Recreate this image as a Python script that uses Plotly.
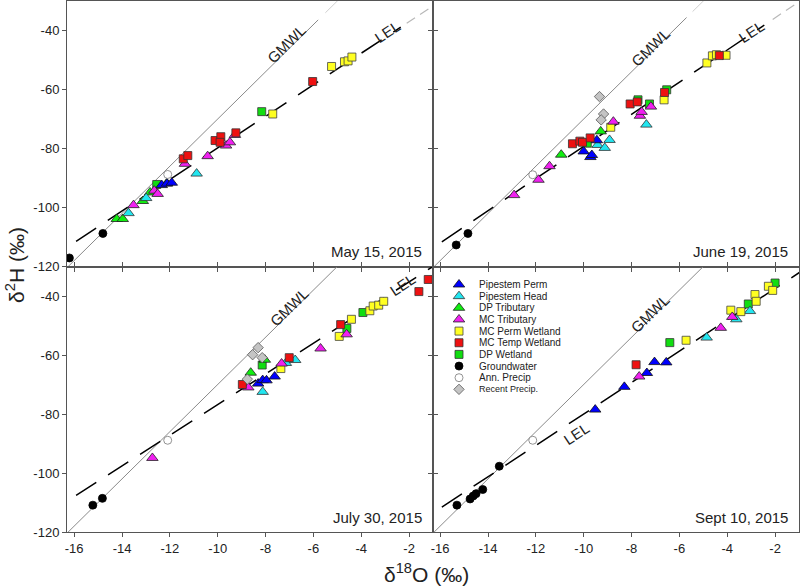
import plotly.graph_objects as go
from plotly.subplots import make_subplots

# ---------------- data ----------------
PANEL_DATES = ["May 15, 2015", "June 19, 2015", "July 30, 2015", "Sept 10, 2015"]
SERIES = ["Pipestem Perm", "Pipestem Head", "DP Tributary", "MC Tributary",
          "MC Perm Wetland", "MC Temp Wetland", "DP Wetland", "Groundwater",
          "Ann. Precip", "Recent Precip."]

X_TICKS = [-16, -14, -12, -10, -8, -6, -4, -2]
X_TICK_TEXT = ["-16", "-14", "-12", "-10", "-8", "-6", "-4", "-2"]
Y_TICKS = [-120, -100, -80, -60, -40]
Y_TICK_TEXT = ["-120", "-100", "-80", "-60", "-40"]

# GMWL: d2H = 8 * d18O + 10
GMWL_SLOPE, GMWL_INTERCEPT = 8.0, 10.0
# LEL per panel (slope, intercept)
LEL_SLOPE = [5.35, 5.45, 5.20, 5.32]
LEL_INTERCEPT = [-26.3, -24.8, -24.8, -26.8]

# --- May 15, 2015 ---
may_pp_x = [-12.34, -12.12, -11.92]
may_pp_y = [-92.4, -91.9, -91.6]
may_ph_x = [-13.73, -12.99, -10.88]
may_ph_y = [-101.9, -96.8, -88.5]
may_dpt_x = [-14.22, -13.97, -13.13, -12.83, -12.13]
may_dpt_y = [-103.9, -103.9, -97.8, -94.9, -91.8]
may_mct_x = [-13.52, -12.65, -12.51, -11.37, -10.42, -9.65, -9.49, -9.28]
may_mct_y = [-99.2, -94.3, -95.4, -85.2, -82.6, -79.0, -77.9, -75.4]
may_mcpw_x = [-7.70, -5.24, -4.70, -4.55, -4.39]
may_mcpw_y = [-68.3, -52.2, -50.6, -50.3, -49.0]
may_mctw_x = [-11.44, -11.25, -10.11, -9.87, -9.90, -9.24, -6.03]
may_mctw_y = [-83.5, -82.4, -77.3, -76.0, -77.9, -74.7, -57.3]
may_dpw_x = [-12.55, -8.16]
may_dpw_y = [-92.2, -67.5]
may_gw_x = [-16.20, -14.80]
may_gw_y = [-117.1, -108.8]
may_ann_x = [-12.09]
may_ann_y = [-88.8]
may_rec_x = []
may_rec_y = []

# --- June 19, 2015 ---
jun_pp_x = [-10.00, -9.72, -9.66, -9.45]
jun_pp_y = [-81.0, -82.9, -82.2, -77.2]
jun_ph_x = [-9.42, -9.12, -8.92, -7.38]
jun_ph_y = [-78.8, -79.8, -77.1, -71.9]
jun_dpt_x = [-10.94, -9.29]
jun_dpt_y = [-82.1, -74.2]
jun_mct_x = [-12.91, -11.89, -11.43, -8.76, -7.65, -7.58, -7.19]
jun_mct_y = [-95.8, -90.6, -86.0, -70.9, -68.9, -67.6, -65.8]
jun_mcpw_x = [-8.87, -6.64, -4.85, -4.62, -4.45, -4.05]
jun_mcpw_y = [-72.8, -63.5, -51.0, -48.6, -48.2, -48.4]
jun_mctw_x = [-10.47, -10.16, -10.05, -9.73, -8.06, -7.76, -6.62, -4.33]
jun_mctw_y = [-78.4, -77.5, -77.9, -76.4, -64.9, -64.2, -61.0, -48.5]
jun_dpw_x = [-9.85, -7.73, -7.25, -6.53]
jun_dpw_y = [-78.2, -63.5, -64.9, -60.1]
jun_gw_x = [-15.33, -14.84]
jun_gw_y = [-112.7, -108.8]
jun_ann_x = [-12.13]
jun_ann_y = [-88.9]
jun_rec_x = [-9.34, -9.17, -9.27]
jun_rec_y = [-62.4, -68.3, -70.3]

# --- July 30, 2015 ---
jul_pp_x = [-8.31, -8.12, -7.96, -7.62]
jul_pp_y = [-69.7, -68.5, -68.6, -67.3]
jul_ph_x = [-8.12, -7.15, -6.76]
jul_ph_y = [-72.5, -62.7, -61.7]
jul_dpt_x = [-8.62, -8.03]
jul_dpt_y = [-66.0, -61.6]
jul_mct_x = [-12.73, -8.72, -7.33, -5.70, -4.61]
jul_mct_y = [-94.9, -71.0, -62.9, -57.8, -53.0]
jul_mcpw_x = [-7.36, -4.92, -4.41, -3.64, -3.50, -3.27, -3.06]
jul_mcpw_y = [-64.6, -53.7, -47.9, -45.0, -43.4, -43.1, -41.8]
jul_mctw_x = [-8.97, -7.01, -4.86, -1.59, -1.20]
jul_mctw_y = [-70.0, -60.9, -49.7, -38.5, -34.4]
jul_dpw_x = [-8.14, -4.60, -3.93]
jul_dpw_y = [-63.4, -51.0, -45.6]
jul_gw_x = [-15.22, -14.82]
jul_gw_y = [-110.9, -108.6]
jul_ann_x = [-12.09]
jul_ann_y = [-88.9]
jul_rec_x = [-8.54, -8.31, -8.14, -8.76]
jul_rec_y = [-59.9, -57.5, -60.9, -68.2]

# --- Sept 10, 2015 ---
sep_pp_x = [-9.52, -8.30, -7.36, -7.04, -6.55]
sep_pp_y = [-78.5, -70.8, -66.1, -62.4, -62.5]
sep_ph_x = [-4.86, -3.62, -3.05]
sep_ph_y = [-54.1, -47.9, -45.1]
sep_dpt_x = []
sep_dpt_y = []
sep_mct_x = [-7.68, -4.27, -3.79]
sep_mct_y = [-67.3, -50.8, -47.1]
sep_mcpw_x = [-5.72, -3.85, -3.43, -2.84, -2.79, -2.28, -2.10]
sep_mcpw_y = [-55.0, -44.8, -45.3, -39.5, -41.8, -36.7, -38.1]
sep_mctw_x = [-7.81]
sep_mctw_y = [-63.3]
sep_dpw_x = [-6.40, -3.12, -2.00]
sep_dpw_y = [-55.8, -42.7, -35.6]
sep_gw_x = [-15.30, -14.75, -14.62, -14.50, -14.22, -13.53]
sep_gw_y = [-110.9, -108.8, -107.8, -107.0, -105.6, -97.7]
sep_ann_x = [-12.13]
sep_ann_y = [-88.9]
sep_rec_x = []
sep_rec_y = []

# line extents (d18O) per panel
GMWL_X_DARK = [[-16.3, -5.8], [-16.3, -5.7], [-16.3, -5.0], [-16.3, -5.0]]
GMWL_X_LIGHT = [[-5.5, -4.9], [-5.45, -4.9], None, None]
LEL_X_DARK = [[-15.92, -2.35], [-15.93, -2.45], [-15.92, -0.9], [-15.93, -0.9]]
LEL_X_LIGHT = [[-2.1, -0.9], [-2.1, -0.9], None, None]

# label positions (d18O, d2H)
GMWL_LABEL_POS = [(-7.11, -44.4), (-7.22, -45.6), (-6.98, -43.7), (-7.22, -46.0)]
LEL_LABEL_POS = [(-2.89, -40.3), (-2.97, -40.3), (-2.26, -36.0), (-10.29, -86.6)]

# ---------------- assemble ----------------
panel_series = [
    [(may_pp_x, may_pp_y), (may_ph_x, may_ph_y), (may_dpt_x, may_dpt_y), (may_mct_x, may_mct_y),
     (may_mcpw_x, may_mcpw_y), (may_mctw_x, may_mctw_y), (may_dpw_x, may_dpw_y), (may_gw_x, may_gw_y),
     (may_ann_x, may_ann_y), (may_rec_x, may_rec_y)],
    [(jun_pp_x, jun_pp_y), (jun_ph_x, jun_ph_y), (jun_dpt_x, jun_dpt_y), (jun_mct_x, jun_mct_y),
     (jun_mcpw_x, jun_mcpw_y), (jun_mctw_x, jun_mctw_y), (jun_dpw_x, jun_dpw_y), (jun_gw_x, jun_gw_y),
     (jun_ann_x, jun_ann_y), (jun_rec_x, jun_rec_y)],
    [(jul_pp_x, jul_pp_y), (jul_ph_x, jul_ph_y), (jul_dpt_x, jul_dpt_y), (jul_mct_x, jul_mct_y),
     (jul_mcpw_x, jul_mcpw_y), (jul_mctw_x, jul_mctw_y), (jul_dpw_x, jul_dpw_y), (jul_gw_x, jul_gw_y),
     (jul_ann_x, jul_ann_y), (jul_rec_x, jul_rec_y)],
    [(sep_pp_x, sep_pp_y), (sep_ph_x, sep_ph_y), (sep_dpt_x, sep_dpt_y), (sep_mct_x, sep_mct_y),
     (sep_mcpw_x, sep_mcpw_y), (sep_mctw_x, sep_mctw_y), (sep_dpw_x, sep_dpw_y), (sep_gw_x, sep_gw_y),
     (sep_ann_x, sep_ann_y), (sep_rec_x, sep_rec_y)],
]

STYLE = {
    "Pipestem Perm":   dict(symbol="triangle-up", color="#0000ff", line="#111111", size=10),
    "Pipestem Head":   dict(symbol="triangle-up", color="#22e6f0", line="#333333", size=10),
    "DP Tributary":    dict(symbol="triangle-up", color="#11ee11", line="#222222", size=10),
    "MC Tributary":    dict(symbol="triangle-up", color="#f020f0", line="#222222", size=10),
    "MC Perm Wetland": dict(symbol="square", color="#ffff22", line="#444444", size=8),
    "MC Temp Wetland": dict(symbol="square", color="#ee1111", line="#333333", size=8),
    "DP Wetland":      dict(symbol="square", color="#11dd11", line="#333333", size=8),
    "Groundwater":     dict(symbol="circle", color="#000000", line="#000000", size=8),
    "Ann. Precip":     dict(symbol="circle", color="#ffffff", line="#777777", size=8),
    "Recent Precip.":  dict(symbol="diamond", color="#c4c4c4", line="#555555", size=8),
}
DRAW_ORDER = ["DP Wetland", "DP Tributary", "Pipestem Head", "Pipestem Perm", "MC Perm Wetland",
              "MC Tributary", "MC Temp Wetland", "Groundwater", "Ann. Precip", "Recent Precip."]

FONT = "Arial, Liberation Sans, sans-serif"
TXT = "#222222"
AX = "#555555"

fig = make_subplots(rows=2, cols=2, horizontal_spacing=0, vertical_spacing=0)
cells = [(1, 1), (1, 2), (2, 1), (2, 2)]

for p, (r, c) in enumerate(cells):
    # GMWL
    xs = GMWL_X_DARK[p]
    fig.add_trace(go.Scatter(x=xs, y=[GMWL_SLOPE * v + GMWL_INTERCEPT for v in xs], mode="lines",
                             line=dict(color="#8a8a8a", width=1), showlegend=False, hoverinfo="skip"),
                  row=r, col=c)
    if GMWL_X_LIGHT[p]:
        xs = GMWL_X_LIGHT[p]
        fig.add_trace(go.Scatter(x=xs, y=[GMWL_SLOPE * v + GMWL_INTERCEPT for v in xs], mode="lines",
                                 line=dict(color="#cfcfcf", width=1), showlegend=False, hoverinfo="skip"),
                      row=r, col=c)
    # LEL
    xs = LEL_X_DARK[p]
    fig.add_trace(go.Scatter(x=xs, y=[LEL_SLOPE[p] * v + LEL_INTERCEPT[p] for v in xs], mode="lines",
                             line=dict(color="#000000", width=1.5, dash="24px,14px"),
                             showlegend=False, hoverinfo="skip"), row=r, col=c)
    if LEL_X_LIGHT[p]:
        xs = LEL_X_LIGHT[p]
        fig.add_trace(go.Scatter(x=xs, y=[LEL_SLOPE[p] * v + LEL_INTERCEPT[p] for v in xs], mode="lines",
                                 line=dict(color="#b8b8b8", width=1.2, dash="10px,6px"),
                                 showlegend=False, hoverinfo="skip"), row=r, col=c)
    # points
    for name in DRAW_ORDER:
        i = SERIES.index(name)
        xs, ys = panel_series[p][i]
        if not xs:
            continue
        st = STYLE[name]
        fig.add_trace(go.Scatter(x=xs, y=ys, mode="markers", name=name, showlegend=False,
                                 marker=dict(symbol=st["symbol"], color=st["color"], size=st["size"],
                                             line=dict(color=st["line"], width=0.8))),
                      row=r, col=c)

# axes
for p, (r, c) in enumerate(cells):
    fig.update_xaxes(range=[-16.3, -1.0], tickvals=X_TICKS, ticktext=X_TICK_TEXT,
                     showticklabels=(r == 2), showline=True, linecolor=AX, linewidth=1,
                     mirror="ticks", ticks="outside", ticklen=4, tickcolor=AX, automargin=False,
                     showgrid=False, zeroline=False, tickfont=dict(family=FONT, size=13, color=TXT),
                     row=r, col=c)
    fig.update_yaxes(range=[-120, -30], tickvals=Y_TICKS, ticktext=Y_TICK_TEXT,
                     showticklabels=(c == 1), showline=True, linecolor=AX, linewidth=1,
                     mirror="ticks", ticks="outside", ticklen=4, tickcolor=AX, automargin=False,
                     showgrid=False, zeroline=False, tickfont=dict(family=FONT, size=13, color=TXT),
                     row=r, col=c)

annotations = []
axis_ids = ["", "2", "3", "4"]
for p, aid in enumerate(axis_ids):
    # date labels
    annotations.append(dict(text=PANEL_DATES[p], xref=f"x{aid} domain", yref=f"y{aid} domain",
                            x=1, y=0, xanchor="right", yanchor="middle", xshift=-9, yshift=15,
                            showarrow=False, font=dict(family=FONT, size=15, color=TXT)))
    gx, gy = GMWL_LABEL_POS[p]
    annotations.append(dict(text="GMWL", xref=f"x{aid}", yref=f"y{aid}", x=gx, y=gy, showarrow=False,
                            textangle=-44.5, font=dict(family=FONT, size=15, color=TXT)))
    lx, ly = LEL_LABEL_POS[p]
    annotations.append(dict(text="LEL", xref=f"x{aid}", yref=f"y{aid}", x=lx, y=ly, showarrow=False,
                            textangle=-33.3, font=dict(family=FONT, size=15, color=TXT)))

# axis titles
annotations.append(dict(text="δ<sup>18</sup>O (‰)", xref="paper", yref="paper", x=0.4918, y=0,
                        yanchor="middle", yshift=-41, showarrow=False,
                        font=dict(family=FONT, size=21, color=TXT)))
annotations.append(dict(text="δ<sup>2</sup>H (‰)", xref="paper", yref="paper", x=0, y=0.503,
                        xanchor="center", yanchor="middle", xshift=-52, textangle=-90, showarrow=False,
                        font=dict(family=FONT, size=21, color=TXT)))

# custom legend on a pixel-space overlay axis
LEG_X_MARK, LEG_X_TEXT, LEG_Y0, LEG_DY = 459, 477, 284.5, 11.65
for k, name in enumerate(SERIES):
    st = STYLE[name]
    yk = LEG_Y0 + k * LEG_DY
    fig.add_trace(go.Scatter(x=[LEG_X_MARK], y=[yk], mode="markers", xaxis="x5", yaxis="y5",
                             showlegend=False, hoverinfo="skip",
                             marker=dict(symbol=st["symbol"], color=st["color"], size=st["size"],
                                         line=dict(color=st["line"], width=0.8))))
    annotations.append(dict(text=name, xref="x5", yref="y5", x=LEG_X_TEXT, y=yk, xanchor="left",
                            yanchor="middle", showarrow=False,
                            font=dict(family=FONT, size=(9 if name == "Recent Precip." else 10), color=TXT)))

fig.update_layout(
    width=800, height=587,
    margin=dict(l=67, r=1, t=1, b=55, autoexpand=False),
    paper_bgcolor="white", plot_bgcolor="rgba(0,0,0,0)",
    showlegend=False,
    font=dict(family=FONT, color=TXT),
    annotations=annotations,
    xaxis5=dict(domain=[0, 1], range=[67, 799], visible=False, anchor="y5", fixedrange=True,
                automargin=False),
    yaxis5=dict(domain=[0, 1], range=[532, 1], visible=False, anchor="x5", fixedrange=True,
                automargin=False),
)

PAGE_FIX = ("document.body.style.margin='0';document.body.style.overflow='hidden';"
            "var d=document.getElementById('{plot_id}');d.style.position='absolute';"
            "d.style.left='0px';d.style.top='0px';")
fig.write_html("out.html", post_script=PAGE_FIX, config={"displayModeBar": False})
